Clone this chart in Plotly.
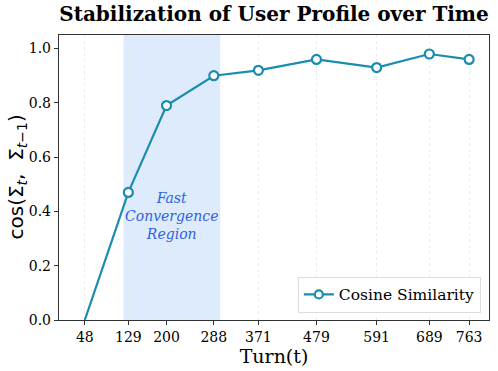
import plotly.graph_objects as go

turns = [48, 129, 200, 288, 371, 479, 591, 689, 763]
cos_sim = [0.0, 0.47, 0.79, 0.90, 0.92, 0.96, 0.93, 0.98, 0.96]
fast_region = [120, 300]

teal = "#1a8dae"
serif = "DejaVu Serif"

W, H = 498, 371
L, R, T, B = 59, 9, 35, 51

fig = go.Figure()

fig.add_vrect(x0=fast_region[0], x1=fast_region[1], fillcolor="rgba(200,222,250,0.6)",
              line_width=0, layer="below")

fig.add_trace(go.Scatter(
    x=turns, y=cos_sim, mode="lines+markers", name="Cosine Similarity",
    line=dict(color=teal, width=2.2),
    marker=dict(size=[0] + [9] * (len(turns) - 1), color="#ffffff", opacity=1,
                line=dict(color=teal, width=2.2)),
))

fig.add_annotation(x=210, y=0.385, text="<i>Fast<br>Convergence<br>Region</i>",
                   showarrow=False, font=dict(family=serif, size=14, color="#2f62e0"))

# y label as annotation so it can sit further left
fig.add_annotation(xref="paper", yref="paper", x=(16 - L) / (W - L - R), y=0.5,
                   xanchor="center", yanchor="middle", textangle=-90, showarrow=False,
                   text="cos(Σ<sub><i>t</i></sub>,  Σ<sub><i>t</i>−1</sub>)",
                   font=dict(family="DejaVu Sans", size=20, color="black"))

fig.update_layout(
    width=W, height=H,
    margin=dict(l=L, r=R, t=T, b=B),
    paper_bgcolor="white", plot_bgcolor="white",
    title=dict(text="<b>Stabilization of User Profile over Time</b>",
               x=(L + (W - R)) / 2 / W, xanchor="center", y=1 - 14 / H, yanchor="middle",
               font=dict(family=serif, size=20, color="black")),
    font=dict(family=serif, size=14, color="black"),
    legend=dict(x=0.981, y=0.025, xanchor="right", yanchor="bottom",
                bgcolor="rgba(255,255,255,0.85)", bordercolor="#dddddd", borderwidth=1,
                font=dict(family=serif, size=15.5)),
    showlegend=True,
)

fig.update_xaxes(
    range=[0, 800], tickvals=turns, ticktext=[str(t) for t in turns],
    showgrid=True, gridcolor="#ececec", griddash="dot", gridwidth=1,
    zeroline=False, showline=True, linecolor="#333333", linewidth=1.4, mirror=True,
    ticks="outside", ticklen=4, tickcolor="#333333", automargin=False,
    title=dict(text="Turn(t)", font=dict(family=serif, size=19), standoff=0),
)
fig.update_yaxes(
    range=[0, 1.05], tickvals=[0, 0.2, 0.4, 0.6, 0.8, 1.0], tickformat=".1f",
    showgrid=False, zeroline=False, showline=True, linecolor="#333333", linewidth=1.4,
    mirror=True, ticks="outside", ticklen=4, tickcolor="#333333", automargin=False,
)

# page body has a default 8px margin; drop it so the figure fills the window
fig.write_html("out.html", config={"displayModeBar": False},
               post_script="document.body.style.margin='0';")
